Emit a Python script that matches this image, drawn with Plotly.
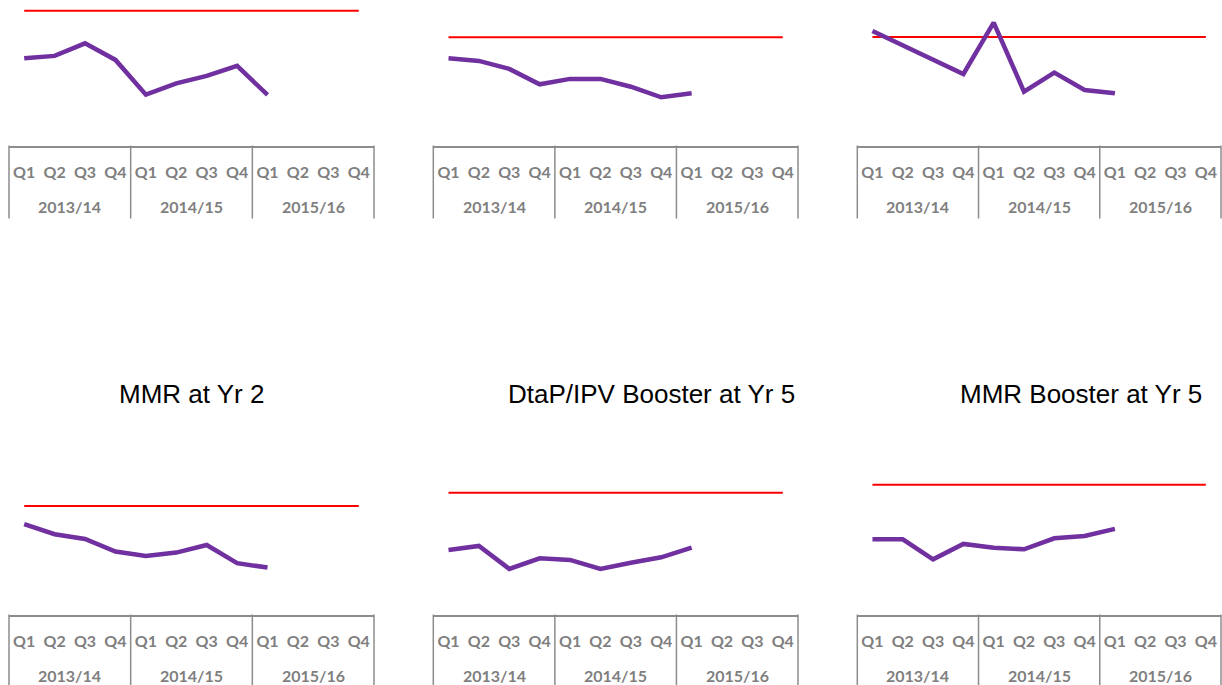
import plotly.graph_objects as go

# ---------------- data ----------------
years = ["2013/14"] * 4 + ["2014/15"] * 4 + ["2015/16"] * 4
quarters = ["Q1", "Q2", "Q3", "Q4"] * 3
periods = [f"{y} {q}" for y, q in zip(years, quarters)]

titles = ["", "", "", "MMR at Yr 2", "DtaP/IPV Booster at Yr 5", "MMR Booster at Yr 5"]
target = [95, 95, 95, 95, 95, 95]

panel1 = [92.62, 92.74, 93.37, 92.54, 90.80, 91.37, 91.74, 92.24, 90.79]
panel2 = [93.95, 93.82, 93.42, 92.65, 92.92, 92.92, 92.53, 92.00, 92.20]
panel3 = [95.30, 94.58, 93.85, 93.15, 95.72, 92.27, 93.22, 92.35, 92.19]
mmr_yr2 = [94.09, 93.59, 93.35, 92.72, 92.50, 92.67, 93.05, 92.14, 91.92]
dtap_ipv_yr5 = [92.14, 92.34, 91.19, 91.72, 91.64, 91.19, 91.50, 91.77, 92.25]
mmr_booster_yr5 = [92.27, 92.27, 91.27, 92.04, 91.85, 91.77, 92.32, 92.44, 92.79]
series = [panel1, panel2, panel3, mmr_yr2, dtap_ipv_yr5, mmr_booster_yr5]

# ---------------- layout / style ----------------
W, H = 1222, 685
col_px = [(9, 374), (433.3, 798), (857.3, 1221)]
row_px = [(0, 145.5), (469, 614.5)]          # (top, bottom) of plot areas in px
y_min = [88.26, 89.59, 89.575, 89.575, 88.91, 88.51]
px_per_unit = 20.0

PURPLE = "#7030A0"
RED = "#FF0000"
GREY = "#7F7F7F"
LINE_GREY = "#8C8C8C"
LABEL_FONT = dict(family="Lato", size=16, color=GREY, weight="bold")

fig = go.Figure()
annotations = []
shapes = []

for i in range(6):
    r, c = divmod(i, 3)
    n = "" if i == 0 else str(i + 1)
    xa, ya = "x" + n, "y" + n
    top, bot = row_px[r]
    x0, x1 = col_px[c]
    xdom = [x0 / W, x1 / W]
    ydom = [(H - bot) / H, (H - top) / H]
    height = bot - top

    fig.add_trace(go.Scatter(
        x=periods, y=[target[i]] * len(periods), mode="lines",
        line=dict(color=RED, width=2), xaxis=xa, yaxis=ya,
        showlegend=False, hoverinfo="skip"))
    vals = series[i]
    fig.add_trace(go.Scatter(
        x=periods[:len(vals)], y=vals, mode="lines",
        line=dict(color=PURPLE, width=4.5), xaxis=xa, yaxis=ya,
        showlegend=False))

    fig.update_layout({
        "xaxis" + n: dict(
            domain=xdom, type="category", categoryorder="array",
            categoryarray=periods, range=[-0.5, len(periods) - 0.5],
            showline=True, linecolor=LINE_GREY, linewidth=1.5,
            showgrid=False, zeroline=False, ticks="",
            tickmode="array", tickvals=periods, ticktext=quarters,
            tickfont=LABEL_FONT, ticklabelstandoff=12, fixedrange=True,
            anchor=ya),
        "yaxis" + n: dict(
            domain=ydom, range=[y_min[i], y_min[i] + height / px_per_unit],
            visible=False, fixedrange=True, anchor=xa),
    })

    # year labels + group dividers
    ncat = len(periods)
    groups = []
    for k, y in enumerate(years):
        if not groups or groups[-1][0] != y:
            groups.append([y, k, k])
        else:
            groups[-1][2] = k
    bound = set()
    for y, a, b in groups:
        annotations.append(dict(
            xref=xa, yref="paper", x=(a + b) / 2, y=ydom[0] - 61 / H,
            text=y, showarrow=False, font=LABEL_FONT,
            xanchor="center", yanchor="middle"))
        bound.add(a - 0.5)
        bound.add(b + 0.5)
    for bx in sorted(bound):
        fx = (bx + 0.5) / ncat
        shapes.append(dict(
            type="line", xref=xa + " domain", yref="paper",
            x0=fx, x1=fx, y0=ydom[0], y1=ydom[0] - 73 / H,
            line=dict(color=LINE_GREY, width=1.5)))

    if titles[i]:
        annotations.append(dict(
            xref="paper", yref="paper",
            x=[191, 651.7, 1080.8][c] / W, y=(H - 394) / H,
            text=titles[i], showarrow=False,
            font=dict(family="Liberation Sans, Arial", size=26, color="#000000"),
            xanchor="center", yanchor="middle"))

fig.update_layout(
    width=W, height=H, margin=dict(l=0, r=0, t=0, b=0),
    paper_bgcolor="white", plot_bgcolor="white",
    annotations=annotations, shapes=shapes, showlegend=False)

fig.write_html("out.html", config={"displayModeBar": False},
               post_script="document.body.style.margin='0';document.body.style.overflow='hidden';")
